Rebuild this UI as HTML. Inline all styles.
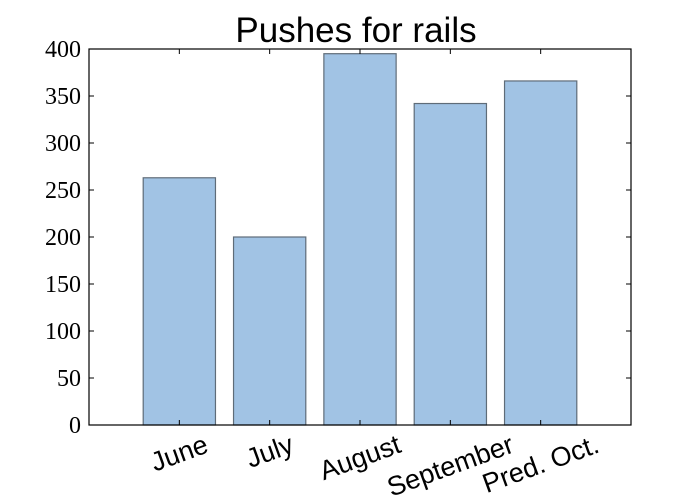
<!DOCTYPE html>
<html><head><meta charset="utf-8"><style>body{margin:0;background:#fff}svg{display:block}</style></head>
<body>
<svg id="c" width="700" height="500" xmlns="http://www.w3.org/2000/svg">
<rect width="700" height="500" fill="#fff"/>
<text x="356" y="42" text-anchor="middle" font-family="Liberation Sans, sans-serif" font-size="35">Pushes for rails</text>
<g id="bars"></g><g id="ticks"></g>
<rect x="89" y="49" width="542" height="376" fill="none" stroke="#000" stroke-width="1.2"/>
</svg>
<script>
const categories = ["June","July","August","September","Pred. Oct."];
const values = [263, 200, 395, 342, 366];
const yTicks = [0,50,100,150,200,250,300,350,400];
const svg = document.getElementById('c'), gb = document.getElementById('bars'), gt = document.getElementById('ticks');
const NS = 'http://www.w3.org/2000/svg';
const L = 89, R = 631, T = 49, B = 425;
const x = v => L + v * (R - L) / 6;
const y = v => B - v * (B - T) / 400;
function mk(tag, attrs, parent){ const e = document.createElementNS(NS, tag); for (const k in attrs) e.setAttribute(k, attrs[k]); parent.appendChild(e); return e; }
values.forEach((v, i) => {
  const r = mk('rect', {x: x(i + 0.6), y: y(v), width: x(i + 1.4) - x(i + 0.6), height: B - y(v), fill: '#a1c3e4', stroke: '#5f6c78', 'stroke-width': 1.2}, gb);
  
  
  const cx = x(i + 1);
  mk('line', {x1: cx, x2: cx, y1: B, y2: B - 5, stroke: '#000'}, gt);
  mk('line', {x1: cx, x2: cx, y1: T, y2: T + 5, stroke: '#000'}, gt);
  const t = mk('text', {x: 0, y: 0, 'text-anchor': 'middle', 'dominant-baseline': 'central', 'font-family': 'Liberation Sans, sans-serif', 'font-size': 27}, gt);
  t.textContent = categories[i];
  
  
  const w = t.getComputedTextLength();
  const cy = 431 + (w * 0.342 + 26 * 0.94) / 2;
  t.setAttribute('transform', `translate(${cx},${cy}) rotate(-20)`);
});
yTicks.forEach(v => {
  const yy = y(v);
  mk('line', {x1: L, x2: L + 5, y1: yy, y2: yy, stroke: '#000'}, gt);
  mk('line', {x1: R, x2: R - 5, y1: yy, y2: yy, stroke: '#000'}, gt);
  const t = mk('text', {x: 81, y: yy + 8, 'text-anchor': 'end', 'font-family': 'Liberation Serif, serif', 'font-size': 24}, gt);
  t.textContent = v;
  
  
});
</script>
</body></html>
